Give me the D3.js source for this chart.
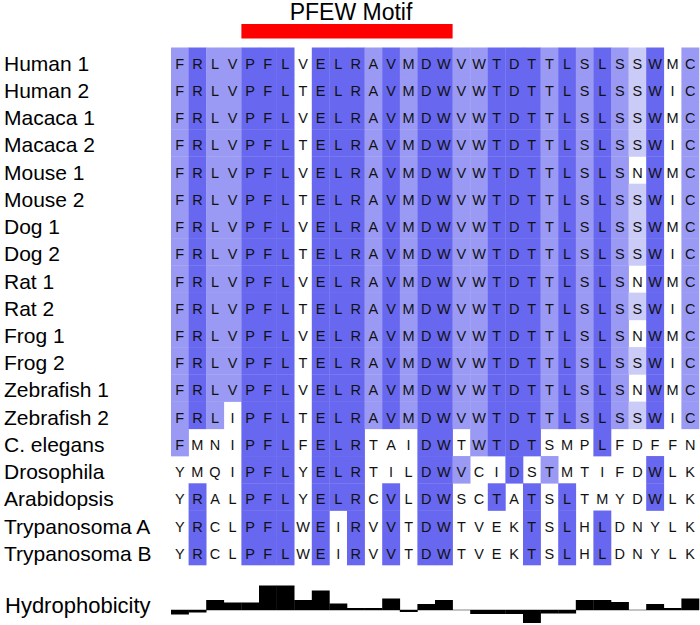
<!DOCTYPE html>
<html>
<head>
<meta charset="utf-8">
<script src="https://cdn.jsdelivr.net/npm/d3@7/dist/d3.min.js"></script>
<style>
  html, body { margin: 0; padding: 0; background: #fff; }
  svg { display: block; font-family: Arial, "Liberation Sans", sans-serif; }
</style>
</head>
<body>
<div id="chart"></div>
<script>
// ---------------- DATA ----------------
const speciesLabels = [
  "Human 1", "Human 2", "Macaca 1", "Macaca 2", "Mouse 1", "Mouse 2",
  "Dog 1", "Dog 2", "Rat 1", "Rat 2", "Frog 1", "Frog 2",
  "Zebrafish 1", "Zebrafish 2", "C. elegans", "Drosophila", "Arabidopsis",
  "Trypanosoma A", "Trypanosoma B"
];
const sequences = [
  "FRLVPFLVELRAVMDWVWTDTTLSLSSWMC",
  "FRLVPFLTELRAVMDWVWTDTTLSLSSWIC",
  "FRLVPFLVELRAVMDWVWTDTTLSLSSWMC",
  "FRLVPFLTELRAVMDWVWTDTTLSLSSWIC",
  "FRLVPFLVELRAVMDWVWTDTTLSLSNWMC",
  "FRLVPFLTELRAVMDWVWTDTTLSLSSWIC",
  "FRLVPFLVELRAVMDWVWTDTTLSLSSWMC",
  "FRLVPFLTELRAVMDWVWTDTTLSLSSWIC",
  "FRLVPFLVELRAVMDWVWTDTTLSLSNWMC",
  "FRLVPFLTELRAVMDWVWTDTTLSLSSWIC",
  "FRLVPFLVELRAVMDWVWTDTTLSLSNWMC",
  "FRLVPFLTELRAVMDWVWTDTTLSLSSWIC",
  "FRLVPFLVELRAVMDWVWTDTTLSLSNWMC",
  "FRLIPFLTELRAVMDWVWTDTTLSLSSWIC",
  "FMNIPFLFELRTAIDWTWTDTSMPLFDFFN",
  "YMQIPFLYELRTILDWVCIDSTMTIFDWLK",
  "YRALPFLYELRCVLDWSCTATSLTMYDWLK",
  "YRCLPFLWEIRVVTDWTVEKTSLHLDNYLK",
  "YRCLPFLWEIRVVTDWTVEKTSLHLDNYLK"
];
// consensus residue of each column and its shading level (0 none, 1 light, 2 medium, 3 dark)
const consensus = "FRLVPFLVELRAVMDWVWTDTTLSLSSWMC";
const conservationLevel = [2,3,2,2,3,3,3,0,3,3,3,2,3,2,3,3,2,2,3,3,3,2,3,2,3,2,1,3,0,2];
// hydrophobicity per column (arbitrary units)
const hydrophobicity = [-0.45,-0.25,1.0,0.75,0.75,2.45,2.45,1.0,1.95,0.65,
                         0.2,0.2,1.15,-0.2,0.6,1.0,0,-0.4,-0.4,-0.4,
                         -1.3,-0.35,-0.35,1.0,1.0,0.8,0,0.6,0.2,1.15];
const motifLabel = "PFEW Motif";
const motifStart = 4, motifEnd = 15;   // column indices covered by the motif
const hydroLabel = "Hydrophobicity";

// ---------------- LAYOUT ----------------
const W = 700, H = 625;
const levelColors = ["#ffffff", "#cbcbf8", "#9a9af4", "#6767ef"];

const svg = d3.select("#chart").append("svg")
  .attr("width", W).attr("height", H);

const nCols = consensus.length;
const cols = d3.range(nCols);
const x = d3.scaleBand().domain(cols).range([171, 699]).paddingInner(0).paddingOuter(0);
const y = d3.scaleBand().domain(d3.range(speciesLabels.length)).range([47.5, 565]).padding(0);

// cells
const cells = [];
sequences.forEach((seq, r) => {
  seq.split("").forEach((aa, c) => {
    const lvl = (aa === consensus[c]) ? conservationLevel[c] : 0;
    cells.push({ r, c, aa, lvl });
  });
});

svg.append("g").selectAll("rect")
  .data(cells.filter(d => d.lvl > 0))
  .join("rect")
  .attr("x", d => x(d.c))
  .attr("y", d => y(d.r))
  .attr("width", x.bandwidth() + 0.3)
  .attr("height", y.bandwidth() + 0.3)
  .attr("fill", d => levelColors[d.lvl]);

svg.append("g").selectAll("text")
  .data(cells)
  .join("text")
  .attr("x", d => x(d.c) + x.bandwidth() / 2)
  .attr("y", d => y(d.r) + y.bandwidth() / 2 + 2.5)
  .attr("text-anchor", "middle")
  .attr("dominant-baseline", "central")
  .attr("font-size", 14.5)
  .attr("fill", "#111")
  .text(d => d.aa);

// row labels
svg.append("g").selectAll("text")
  .data(speciesLabels)
  .join("text")
  .attr("x", 4)
  .attr("y", (d, i) => y(i) + y.bandwidth() / 2 + 2)
  .attr("dominant-baseline", "central")
  .attr("font-size", 21)
  .attr("fill", "#000")
  .text(d => d);

// motif bar and label
const mx0 = x(motifStart), mx1 = x(motifEnd) + x.bandwidth();
svg.append("rect")
  .attr("x", mx0).attr("y", 24)
  .attr("width", mx1 - mx0).attr("height", 14.5)
  .attr("fill", "#ff0000");
svg.append("text")
  .attr("x", (mx0 + mx1) / 2 + 4)
  .attr("y", 20)
  .attr("text-anchor", "middle")
  .attr("font-size", 23)
  .attr("fill", "#000")
  .text(motifLabel);

// hydrophobicity profile
const baseY = 610;
const hy = d3.scaleLinear().domain([-1, 1]).range([baseY + 10, baseY - 10]);
svg.append("line")
  .attr("x1", x(0)).attr("x2", x(nCols - 1) + x.bandwidth())
  .attr("y1", baseY).attr("y2", baseY)
  .attr("stroke", "#888").attr("stroke-width", 1.2);
svg.append("g").selectAll("rect")
  .data(hydrophobicity.map((v, c) => ({ v, c })).filter(d => d.v !== 0))
  .join("rect")
  .attr("x", d => x(d.c))
  .attr("y", d => Math.min(hy(d.v), hy(0)))
  .attr("width", x.bandwidth() + 0.3)
  .attr("height", d => Math.abs(hy(d.v) - hy(0)))
  .attr("fill", "#000");

svg.append("text")
  .attr("x", 5).attr("y", 605)
  .attr("dominant-baseline", "central")
  .attr("font-size", 22)
  .attr("fill", "#000")
  .text(hydroLabel);
</script>
</body>
</html>
